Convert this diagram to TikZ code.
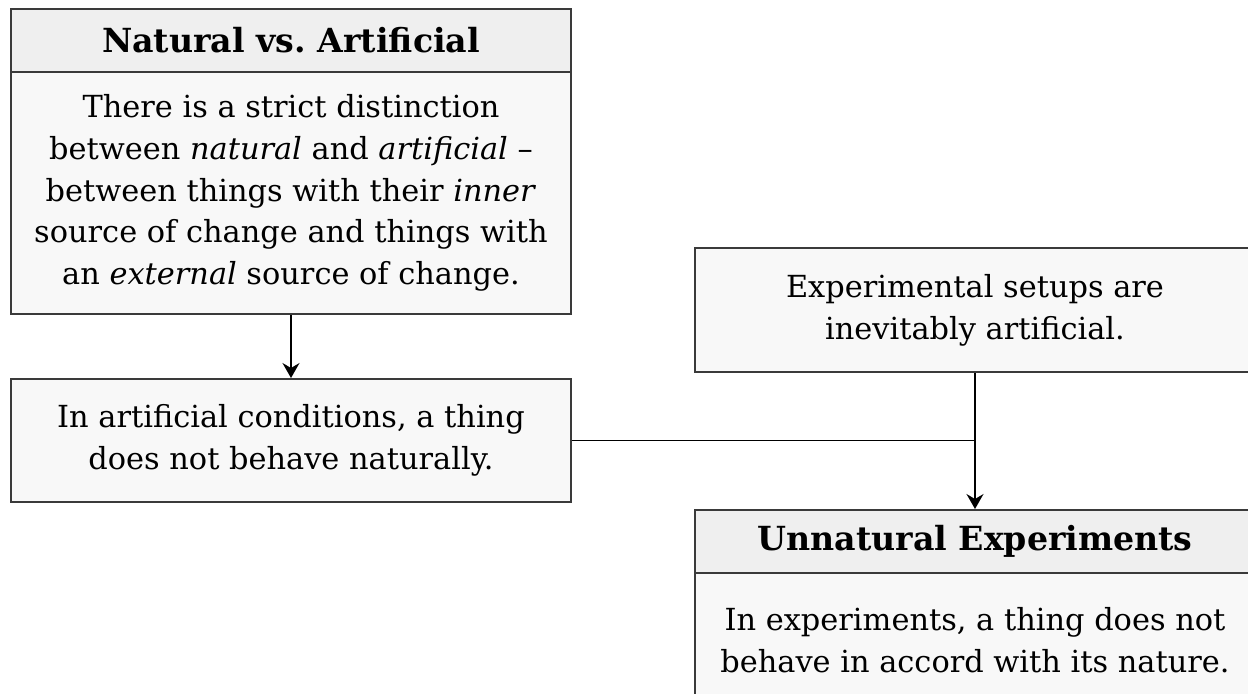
\documentclass[tikz,border=0pt]{standalone}
\usepackage{fontspec}
\setmainfont{DejaVu Serif}
\usetikzlibrary{arrows.meta}
\definecolor{boxline}{HTML}{3A3A3A}
\definecolor{headfill}{HTML}{EFEFEF}
\definecolor{bodyfill}{HTML}{F8F8F8}
\begin{document}
\begin{tikzpicture}[x=0.5pt, y=-0.5pt,
  box/.style={draw=boxline, line width=1pt, minimum width=280pt, inner sep=0pt, align=center},
  headbox/.style={box, fill=headfill, minimum height=31.5pt, font=\fontsize{16.6}{19}\selectfont\bfseries},
  bodybox/.style={box, fill=bodyfill, font=\fontsize{15.2}{20.9}\selectfont},
  link/.style={line width=0.8pt, black},
  arr/.style={link, -{Stealth[length=7.5pt, width=8.5pt, inset=2.5pt]}}]
  \useasboundingbox (0,0) rectangle (1248,693);
  \clip (0,0) rectangle (1248,693);
  % Natural vs. Artificial
  \node[bodybox, minimum height=121pt] (naturaltext) at (291,193)
    {There is a strict distinction\\
     between \emph{natural} and \emph{artificial} --\\
     between things with their \emph{inner}\\
     source of change and things with\\
     an \emph{external} source of change.};
  \node[headbox] (natural) at (291,40.5) {Natural vs.\ Artificial};
  % Artificial conditions
  \node[bodybox, minimum height=61.5pt] (conditions) at (291,440.5)
    {In artificial conditions, a thing\\ does not behave naturally.};
  % Experimental setups
  \node[bodybox, minimum height=62pt] (setups) at (975,310)
    {Experimental setups are\\ inevitably artificial.};
  % Unnatural Experiments
  \node[bodybox, minimum height=67.5pt] (unnaturaltext) at (975,640.5)
    {In experiments, a thing does not\\ behave in accord with its nature.};
  \node[headbox] (unnatural) at (975,541.5) {Unnatural Experiments};
  % Connectors
  \draw[arr] (naturaltext.south) -- (conditions.north);
  \coordinate (join) at (setups.south |- conditions.east);
  \draw[link] (conditions.east) -- (join);
  \draw[arr] (setups.south) -- (unnatural.north);
\end{tikzpicture}
\end{document}
